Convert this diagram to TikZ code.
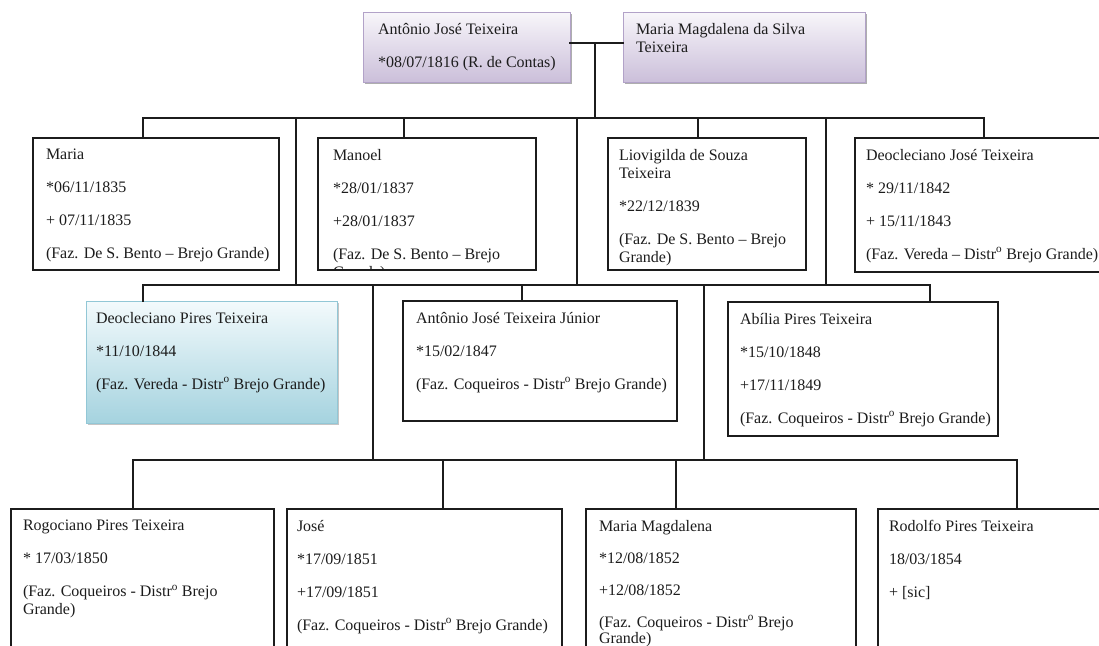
\documentclass[tikz,border=0pt]{standalone}
\usepackage{fontspec}
\setmainfont{Liberation Serif}
\usetikzlibrary{shadows}

\definecolor{ink}{HTML}{1C1C1C}
\definecolor{lilactop}{HTML}{F8F6FA}
\definecolor{lilacbot}{HTML}{CBBFDA}
\definecolor{lilacline}{HTML}{B2A2C8}
\definecolor{skytop}{HTML}{F3FAFC}
\definecolor{skybot}{HTML}{A5D3DF}
\definecolor{skyline}{HTML}{92C7D6}
\definecolor{shade}{HTML}{8C8C8C}

\newcommand\gap{\\[15pt]}
\newcommand\ordo{\textsuperscript{o}}
% text block placed inside a box, first baseline fixed by a strut
\newcommand\boxtext[3][12]{\node[txt] (#2t) at ([xshift=#1pt,yshift=-11pt]#2.north west) {#3};}

\tikzset{
  frame/.style={anchor=north west, inner sep=0pt, outer sep=0pt, line width=1.2pt},
  person/.style={frame, draw=ink, fill=white},
  lilacbox/.style={frame, draw=lilacline, line width=1pt, top color=lilactop, bottom color=lilacbot,
    drop shadow={shadow xshift=2pt, shadow yshift=-2pt, fill=shade, opacity=0.7}},
  skybox/.style={frame, draw=skyline, line width=1pt, top color=skytop, bottom color=skybot,
    drop shadow={shadow xshift=2pt, shadow yshift=-2pt, fill=shade, opacity=0.5}},
  txt/.style={anchor=north west, inner sep=0pt, outer sep=0pt, align=left, text=ink,
    font=\fontsize{16}{18}\selectfont, execute at begin node={\rule{0pt}{15pt}}},
  link/.style={draw=ink, line width=1.2pt, line cap=rect},
}

\begin{document}
\begin{tikzpicture}[x=1pt, y=-1pt]
\clip (0,0) rectangle (1099,645);
\fill[white] (0,0) rectangle (1099,645);

% parents
\node[lilacbox, minimum width=207pt, minimum height=70pt] (pa) at (363,12) {};
\node[lilacbox, minimum width=242pt, minimum height=70pt] (ma) at (623,12) {};
\boxtext[15]{pa}{Antônio José Teixeira\gap*08/07/1816 (R. de Contas)}
\boxtext[13]{ma}{Maria Magdalena da Silva\\Teixeira}

% first row of children
\node[person, minimum width=246pt, minimum height=132pt] (c1) at (33,138) {};
\node[person, minimum width=218pt, minimum height=132pt] (c2) at (318,138) {};
\node[person, minimum width=198pt, minimum height=132pt] (c3) at (608,138) {};
\node[person, minimum width=265pt, minimum height=134pt] (c4) at (855,138) {};
\boxtext[13]{c1}{Maria\gap*06/11/1835\gap+ 07/11/1835\gap(Faz. De S. Bento – Brejo Grande)}
\begin{scope}
  \clip (c2.north west) rectangle (c2.south east);
  \boxtext[15]{c2}{Manoel\gap*28/01/1837\gap+28/01/1837\gap(Faz. De S. Bento – Brejo\\Grande)}
\end{scope}
\boxtext[11]{c3}{Liovigilda de Souza\\Teixeira\gap*22/12/1839\gap(Faz. De S. Bento – Brejo\\Grande)}
\boxtext[11]{c4}{Deocleciano José Teixeira\gap* 29/11/1842\gap+ 15/11/1843\gap(Faz. Vereda – Distr\ordo{} Brejo Grande)}

% second row of children
\node[skybox, minimum width=251pt, minimum height=122pt] (d1) at (86,301) {};
\node[person, minimum width=274pt, minimum height=120pt] (d2) at (403,301) {};
\node[person, minimum width=270pt, minimum height=134pt] (d3) at (728,302) {};
\boxtext[10]{d1}{Deocleciano Pires Teixeira\gap*11/10/1844\gap(Faz. Vereda - Distr\ordo{} Brejo Grande)}
\boxtext[13]{d2}{Antônio José Teixeira Júnior\gap*15/02/1847\gap(Faz. Coqueiros - Distr\ordo{} Brejo Grande)}
\boxtext[12]{d3}{Abília Pires Teixeira\gap*15/10/1848\gap+17/11/1849\gap(Faz. Coqueiros - Distr\ordo{} Brejo Grande)}

% third row of children
\node[person, minimum width=263pt, minimum height=160pt] (e1) at (11,509) {};
\node[person, minimum width=275pt, minimum height=160pt] (e2) at (287,509) {};
\node[person, minimum width=270pt, minimum height=160pt] (e3) at (586,509) {};
\node[person, minimum width=250pt, minimum height=160pt] (e4) at (878,509) {};
\boxtext[12]{e1}{Rogociano Pires Teixeira\gap* 17/03/1850\gap(Faz. Coqueiros - Distr\ordo{} Brejo\\Grande)}
\boxtext[10]{e2}{José\gap*17/09/1851\gap+17/09/1851\gap(Faz. Coqueiros - Distr\ordo{} Brejo Grande)}
\boxtext[13]{e3}{Maria Magdalena\\[14pt]*12/08/1852\\[14pt]+12/08/1852\\[14pt](Faz. Coqueiros - Distr\ordo{} Brejo\\[-2pt]Grande)}
\boxtext[11]{e4}{Rodolfo Pires Teixeira\gap18/03/1854\gap+ [sic]}

% marriage line and descent
\coordinate (j0) at (595,43);
\coordinate (r1) at (595,118);
\draw[link] (j0 -| pa.east) -- (j0 -| ma.west);
\draw[link] (j0) -- (r1);

% first bar
\coordinate (r1a) at (143,118);
\coordinate (r1b) at (404,118);
\coordinate (r1c) at (698,118);
\coordinate (r1d) at (984,118);
\draw[link] (r1a) -- (r1d);
\draw[link] (r1a) -- (r1a |- c1.north);
\draw[link] (r1b) -- (r1b |- c2.north);
\draw[link] (r1c) -- (r1c |- c3.north);
\draw[link] (r1d) -- (r1d |- c4.north);

% second bar, fed from the first
\coordinate (t1) at (296,118);
\coordinate (t2) at (577,118);
\coordinate (t3) at (826,118);
\coordinate (r2a) at (143,285);
\coordinate (r2b) at (522,285);
\coordinate (r2c) at (930,285);
\draw[link] (t1) -- (t1 |- r2a);
\draw[link] (t2) -- (t2 |- r2a);
\draw[link] (t3) -- (t3 |- r2a);
\draw[link] (r2a) -- (r2c);
\draw[link] (r2a) -- (r2a |- d1.north);
\draw[link] (r2b) -- (r2b |- d2.north);
\draw[link] (r2c) -- (r2c |- d3.north);

% third bar, fed from the second
\coordinate (u1) at (373,285);
\coordinate (u2) at (704,285);
\coordinate (r3a) at (133,460);
\coordinate (r3b) at (443,460);
\coordinate (r3c) at (676,460);
\coordinate (r3d) at (1017,460);
\draw[link] (u1) -- (u1 |- r3a);
\draw[link] (u2) -- (u2 |- r3a);
\draw[link] (r3a) -- (r3d);
\draw[link] (r3a) -- (r3a |- e1.north);
\draw[link] (r3b) -- (r3b |- e2.north);
\draw[link] (r3c) -- (r3c |- e3.north);
\draw[link] (r3d) -- (r3d |- e4.north);
\end{tikzpicture}
\end{document}
